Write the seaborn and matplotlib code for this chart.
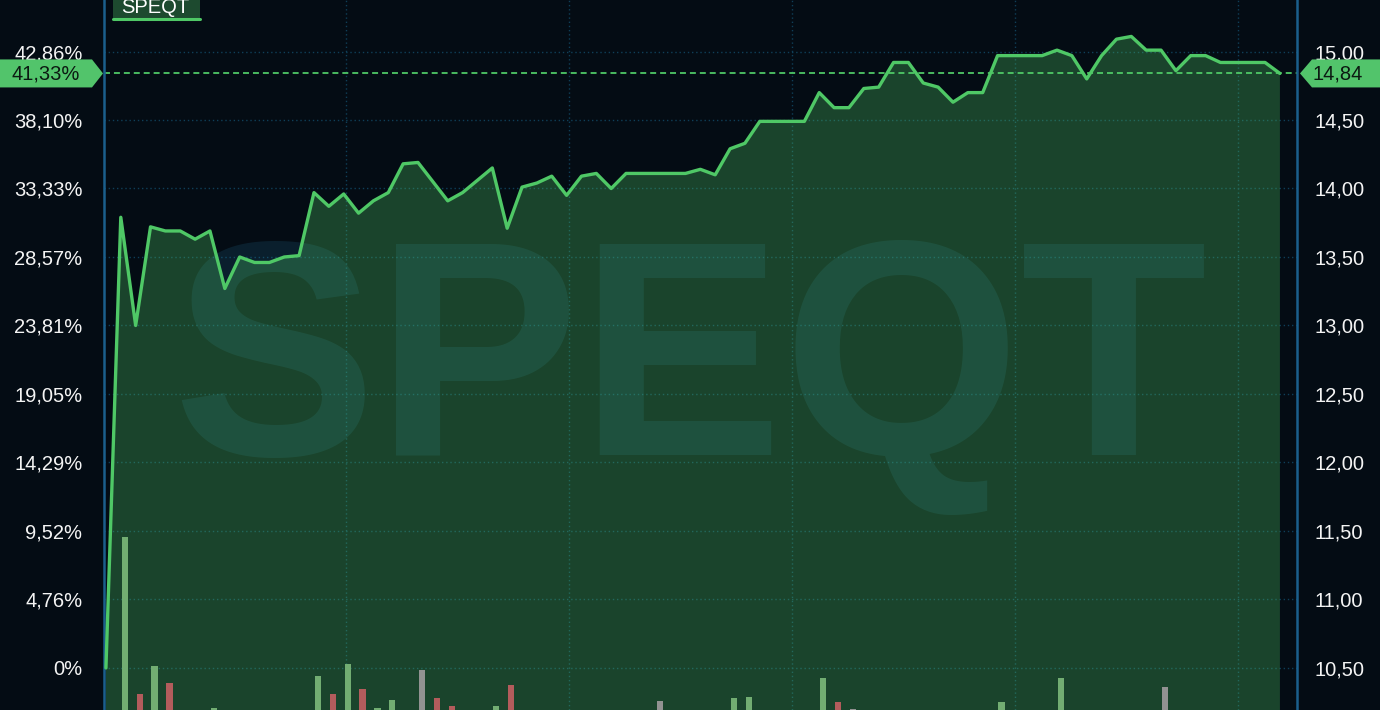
import numpy as np
import pandas as pd
import matplotlib
matplotlib.use("Agg")
import matplotlib.pyplot as plt
import matplotlib.transforms as mtransforms
from matplotlib.patches import Polygon, Rectangle
from matplotlib.lines import Line2D
import seaborn as sns

# ---------------- data ----------------
symbol = "SPEQT"
base_price = 10.50
prices = [10.50, 13.79, 13.00, 13.72, 13.69, 13.69, 13.63, 13.69, 13.27, 13.50,
          13.46, 13.46, 13.50, 13.51, 13.97, 13.87, 13.96, 13.82, 13.91, 13.97,
          14.18, 14.19, 14.05, 13.91, 13.97, 14.06, 14.15, 13.71, 14.01, 14.04,
          14.09, 13.95, 14.09, 14.11, 14.00, 14.11, 14.11, 14.11, 14.11, 14.11,
          14.14, 14.10, 14.29, 14.33, 14.49, 14.49, 14.49, 14.49, 14.70, 14.59,
          14.59, 14.73, 14.74, 14.92, 14.92, 14.77, 14.74, 14.63, 14.70, 14.70,
          14.97, 14.97, 14.97, 14.97, 15.01, 14.97, 14.80, 14.97, 15.09, 15.11,
          15.01, 15.01, 14.86, 14.97, 14.97, 14.92, 14.92, 14.92, 14.92, 14.84]

vol_bar = [1, 2, 3, 4, 7, 14, 15, 16, 17, 18, 19, 21, 22, 23, 26, 27, 37,
           42, 43, 48, 49, 50, 60, 64, 71]
vol_values = [17300, 1600, 4400, 2700, 200, 3400, 1600, 4600, 2100, 200, 1000,
              4000, 1200, 400, 400, 2500, 900, 1200, 1300, 3200, 800, 150, 800,
              3200, 2300]
vol_dir = ['up', 'down', 'up', 'down', 'up', 'up', 'down', 'up', 'down', 'up',
           'up', 'flat', 'down', 'down', 'up', 'down', 'flat', 'up', 'up', 'up',
           'down', 'flat', 'up', 'up', 'flat']

price_ticks = [10.50, 11.00, 11.50, 12.00, 12.50, 13.00, 13.50, 14.00, 14.50, 15.00]
right_labels = ["10,50", "11,00", "11,50", "12,00", "12,50", "13,00", "13,50",
                "14,00", "14,50", "15,00"]
left_labels = ["0%", "4,76%", "9,52%", "14,29%", "19,05%", "23,81%", "28,57%",
               "33,33%", "38,10%", "42,86%"]

# ---------------- style ----------------
BG = "#040c14"
LINE = "#4fc866"
SPINE = "#1b5f8c"
GRID = "#0f3f58"
TXT = "#f4f4f4"
VOL_COLORS = {"up": "#72ad72", "down": "#b35c5c", "flat": "#929292"}

sns.set_style("dark")
plt.rcParams["font.family"] = ["Liberation Sans", "DejaVu Sans"]

W, H, DPI = 1380, 710, 100
fig = plt.figure(figsize=(W / DPI, H / DPI), dpi=DPI, facecolor=BG)
ax = fig.add_axes([104 / W, 0, (1297 - 104) / W, 1])
ax.set_facecolor(BG)

xs = np.arange(len(prices))
df = pd.DataFrame({"bar": xs, "price": prices})

# watermark
ax.text(0.491, 0.359, symbol, transform=ax.transAxes, ha="center", va="baseline",
        fontsize=220, fontweight="bold", color="#2882aa", alpha=0.17, zorder=0.8)

# area fill + line
ax.fill_between(df["bar"], df["price"], 0, color=LINE, alpha=0.3, linewidth=0, zorder=1)
sns.lineplot(data=df, x="bar", y="price", color=LINE, linewidth=2.4, ax=ax, zorder=3)
ax.axhline(prices[-1], color=LINE, lw=1.3, ls=(0, (3.3, 2.2)), zorder=2.5)

# volume on a hidden twin axis
axv = ax.twinx()
vdf = pd.DataFrame({"bar": np.array(vol_bar) + 0.27, "vol": vol_values, "dir": vol_dir})
sns.barplot(data=vdf, x="bar", y="vol", hue="dir", palette=VOL_COLORS,
            native_scale=True, width=0.42, dodge=False, legend=False,
            saturation=1, ax=axv, zorder=2, linewidth=0, edgecolor="none")
axv.set_ylim(0, 71000)
axv.set_yticks([])
for s in axv.spines.values():
    s.set_visible(False)
axv.set_ylabel("")
axv.grid(False)

# limits
ax.set_xlim(-0.13, 80.15)
ax.set_ylim(10.193, 15.376)

# grid / ticks
ax.set_yticks(price_ticks)
ax.set_yticklabels(left_labels)
ax.set_xticks(np.arange(16.15, 80, 15))
ax.set_axisbelow(True)
ax.grid(True, color=GRID, lw=1, ls=(0, (1, 2)))
ax.tick_params(axis="y", length=0, pad=15.5, labelcolor=TXT, labelsize=14.5)
ax.tick_params(axis="x", length=0, labelbottom=False)
ax.set_xlabel("")
ax.set_ylabel("")
for k in ["top", "bottom"]:
    ax.spines[k].set_visible(False)
for k in ["left", "right"]:
    ax.spines[k].set_color(SPINE)
    ax.spines[k].set_linewidth(1.8)

axr = ax.twinx()
axr.set_ylim(ax.get_ylim())
axr.set_yticks(price_ticks)
axr.set_yticklabels(right_labels)
axr.tick_params(axis="y", length=0, pad=12.5, labelcolor=TXT, labelsize=14.5)
axr.grid(False)
for s in axr.spines.values():
    s.set_visible(False)
ax.set_xlim(-0.13, 80.15)

# current price flags
ident = mtransforms.IdentityTransform()
yc = ax.transData.transform((0, prices[-1]))[1]
hh = 14
left_poly = Polygon([(0, yc + hh), (92, yc + hh), (103, yc), (92, yc - hh), (0, yc - hh)],
                    closed=True, facecolor="#52c46b", edgecolor="none", transform=ident)
fig.add_artist(left_poly)
pct = (prices[-1] / base_price - 1) * 100
fig.text(11, yc - 1, f"{pct:.2f}%".replace(".", ","), transform=ident, ha="left",
         va="center", fontsize=14.5, color="#0c1a12")
right_poly = Polygon([(1300, yc), (1312, yc + hh), (W, yc + hh), (W, yc - hh), (1312, yc - hh)],
                     closed=True, facecolor="#52c46b", edgecolor="none", transform=ident)
fig.add_artist(right_poly)
fig.text(1313, yc - 1, f"{prices[-1]:.2f}".replace(".", ","), transform=ident, ha="left",
         va="center", fontsize=14.5, color="#0c1a12")

# symbol badge top-left
fig.add_artist(Rectangle((113, H - 18), 87, 25, facecolor="#1d4a2f", edgecolor="none",
                         transform=ident))
fig.add_artist(Line2D([113, 200], [H - 18.5, H - 18.5], color=LINE, lw=2.2, transform=ident))
fig.text(121, H - 13, symbol, transform=ident, ha="left", va="baseline",
         fontsize=14.5, color="#ffffff")

fig.savefig("out.png", dpi=DPI, facecolor=BG)
